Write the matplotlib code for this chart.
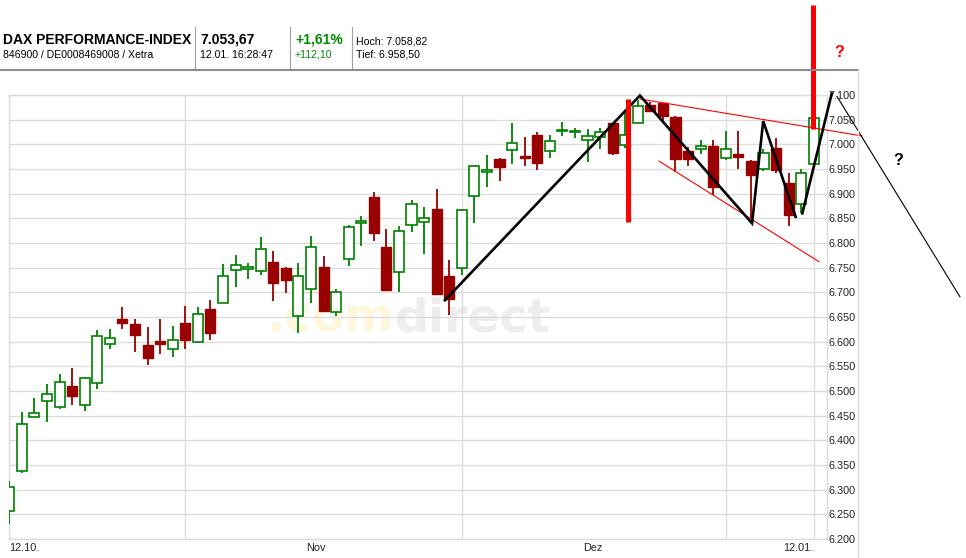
import numpy as np
import pandas as pd
import matplotlib
matplotlib.use('Agg')
import matplotlib.pyplot as plt
from matplotlib.lines import Line2D

plt.rcParams['font.family'] = ['Liberation Sans', 'DejaVu Sans']

# daily candles (Xetra trading days 12.10.2010 - 12.01.2011)
opens = [6257, 6338, 6447, 6479, 6467, 6510, 6471, 6516, 6595, 6646,
         6636, 6593, 6602, 6586, 6638, 6600, 6666, 6678, 6745, 6747,
         6743, 6761, 6749, 6652, 6706, 6751, 6660, 6767, 6841, 6893,
         6792, 6741, 6836, 6842, 6869, 6733, 6749, 6896, 6944, 6970,
         6988, 6976, 7019, 6987, 7028, 7024, 7008, 7014, 7044, 6999,
         7044, 7080, 7083, 7056, 6987, 6990, 6997, 6973, 6980, 6967,
         6949, 6993, 6922, 6880, 6959.5]
highs = [6317, 6457, 6486, 6514, 6534, 6547, 6528, 6624, 6626, 6671,
         6646, 6630, 6646, 6632, 6673, 6671, 6684, 6757, 6776, 6759,
         6812, 6784, 6752, 6759, 6814, 6774, 6706, 6837, 6855, 6903,
         6828, 6834, 6887, 6873, 6909, 6765, 6868, 6959, 6978, 6973,
         7043, 7015, 7024, 7019, 7045, 7033, 7031, 7033, 7044, 7070,
         7090, 7086, 7084, 7057, 6995, 7009, 7009, 7027, 7027, 6968,
         6990, 7012, 6942, 6951, 7058.8]
lows = [6230, 6334, 6447, 6438, 6463, 6472, 6460, 6505, 6586, 6626,
        6580, 6553, 6576, 6569, 6586, 6598, 6604, 6678, 6711, 6728,
        6736, 6683, 6699, 6618, 6679, 6663, 6653, 6753, 6794, 6805,
        6705, 6701, 6823, 6778, 6697, 6655, 6736, 6841, 6914, 6926,
        6961, 6957, 6947, 6973, 7017, 7012, 6964, 6991, 6978, 6993,
        7043, 7065, 7047, 6943, 6956, 6980, 6897, 6968, 6950, 6850,
        6945, 6941, 6834, 6860, 6958.5]
closes = [6305, 6434, 6455, 6493, 6518, 6490, 6526, 6611, 6607, 6638,
          6614, 6567, 6596, 6603, 6603, 6656, 6618, 6734, 6755, 6751,
          6787, 6719, 6724, 6734, 6791, 6663, 6700, 6832, 6845, 6821,
          6705, 6824, 6880, 6850, 6697, 6687, 6867, 6957, 6948, 6955,
          7002, 6973, 6963, 7006, 7030, 7028, 7017, 7024, 6983, 7019,
          7078, 7068, 7058, 6970, 6970, 6996, 6914, 6990, 6975, 6938,
          6982, 6947, 6857, 6941, 7053.67]

y_levels = list(range(6200, 7101, 50))
grid_dates = ['2010-10-12', '2010-11-01', '2010-12-01', '2011-01-03', '2011-01-12']
label_dates = ['2010-10-12', '2010-11-15', '2010-12-15', '2011-01-12']
label_texts = ['12.10.', 'Nov', 'Dez', '12.01.']

# hand-drawn annotations (trading-day index, index points)
zigzag_x = [34.66, 50.17, 59.09, 59.98, 62.56]
zigzag_y = [6684, 7099, 6840, 7047, 6853]
rebound_x = [63.09, 65.43]
rebound_y = [6860, 7103]
forecast_x = [65.85, 75.63]
forecast_y = [7097, 6691]
upper_x = [50.17, 67.84]
upper_y = [7092, 7017]
lower_x = [51.69, 64.42]
lower_y = [6966, 6762]
bars_x = [49.2, 63.96]
bars_lo = [6843, 7032]
bars_hi = [7092, 7282]
quest_x = [66.0, 70.68]
quest_y = [7186, 6968]
quest_col = ['#ff0000', '#000000']

days = pd.bdate_range('2010-10-12', '2011-01-12')
days = days[~days.isin(pd.to_datetime(['2010-12-24', '2010-12-31']))]
def di(d):
    return days.get_loc(pd.Timestamp(d))

W, H = 966, 558
def fx(x):
    return x / W
def fy(y):
    return 1 - y / H

fig = plt.figure(figsize=(W / 100, H / 100), dpi=100)
ax = fig.add_axes([9.3 / W, 19 / H, 817.4 / W, 444 / H])

o = np.array(opens, float); h = np.array(highs, float)
l = np.array(lows, float); c = np.array(closes, float)
idx = np.arange(len(o))
up = c >= o
green, red = '#008000', '#990000'

ax.vlines(idx[up], l[up], h[up], color=green, lw=1.3, zorder=3)
ax.vlines(idx[~up], l[~up], h[~up], color=red, lw=1.3, zorder=3)
ax.bar(idx[up], np.maximum(c[up] - o[up], 1), bottom=o[up], width=0.8,
       facecolor='white', edgecolor=green, lw=1.2, zorder=4)
ax.bar(idx[~up], np.maximum(o[~up] - c[~up], 1), bottom=c[~up], width=0.8,
       facecolor=red, edgecolor=red, lw=1.0, zorder=4)

ax.set_xlim(0, 65.03)
ax.set_ylim(6200, 7100)
ax.set_xticks([])
ax.yaxis.tick_right()
ax.set_yticks(y_levels)
ax.set_yticklabels([f'{v:,}'.replace(',', '.') for v in y_levels])
ax.tick_params(axis='y', length=0, pad=1.5, labelsize=7.8, colors='#222222')
ax.set_axisbelow(False)
ax.grid(axis='y', color='#dcdcdc', lw=1, zorder=1)
for d in grid_dates:
    ax.axvline(di(d), color='#dcdcdc', lw=1, zorder=1)
for s in ax.spines.values():
    s.set_color('#dcdcdc')
    s.set_linewidth(1)

has = ['left', 'center', 'center', 'right']
for d, t, a in zip(label_dates, label_texts, has):
    xpos = di(d) + (0.4 if a == 'center' else 0)
    ax.text(xpos, -0.021, t, transform=ax.get_xaxis_transform(), ha=a,
            va='center', fontsize=7.8, color='#222222')

# annotations
ax.plot(zigzag_x, zigzag_y, color='black', lw=1.9, zorder=6, clip_on=False,
        solid_joinstyle='miter')
ax.plot(rebound_x, rebound_y, color='black', lw=1.9, zorder=6, clip_on=False)
ax.plot(forecast_x, forecast_y, color='black', lw=0.8, zorder=6, clip_on=False)
ax.plot(upper_x, upper_y, color='#ff0000', lw=0.8, zorder=5, clip_on=False)
ax.plot(lower_x, lower_y, color='#ff0000', lw=0.8, zorder=5, clip_on=False)
ax.vlines(bars_x, bars_lo, bars_hi, color='#ff0000', lw=3.6, zorder=7,
          clip_on=False)
for qx, qy, qc in zip(quest_x, quest_y, quest_col):
    ax.text(qx, qy, '?', color=qc, fontsize=11.5, fontweight='bold',
            ha='center', va='center', clip_on=False)

# watermark, behind grid and candles
ax.text(fx(394), fy(331), '.com', color='#fff7dc', fontsize=34,
        fontweight='bold', family='DejaVu Sans', ha='right', va='baseline',
        transform=fig.transFigure, zorder=0.5)
ax.text(fx(395), fy(331), 'direct', color='#ededed', fontsize=34,
        fontweight='bold', family='DejaVu Sans', ha='left', va='baseline',
        transform=fig.transFigure, zorder=0.5)

# header
fig.text(fx(3), fy(44), 'DAX PERFORMANCE-INDEX', fontsize=10,
         fontweight='bold', va='baseline')
fig.text(fx(3), fy(57.5), '846900 / DE0008469008 / Xetra', fontsize=7.6,
         va='baseline')
fig.text(fx(200), fy(44), '7.053,67', fontsize=10, fontweight='bold',
         va='baseline')
fig.text(fx(200), fy(57.5), '12.01. 16:28:47', fontsize=7.6, va='baseline')
fig.text(fx(295), fy(44), '+1,61%', fontsize=10, fontweight='bold',
         color='#008a00', va='baseline')
fig.text(fx(295), fy(57.5), '+112,10', fontsize=7.6, color='#008a00',
         va='baseline')
fig.text(fx(356), fy(44.7), 'Hoch: 7.058,82', fontsize=7.6, va='baseline')
fig.text(fx(356), fy(57.5), 'Tief: 6.958,50', fontsize=7.6, va='baseline')
for sx in [195.3, 290.3, 351.7]:
    fig.add_artist(Line2D([fx(sx), fx(sx)], [fy(27), fy(67.7)],
                          color='#a0a0a0', lw=0.8))
fig.add_artist(Line2D([0, fx(858)], [fy(69.5), fy(69.5)], color='#8c8c8c',
                      lw=1.5))
fig.add_artist(Line2D([fx(858), fx(858)], [fy(70), 0], color='#dcdcdc',
                      lw=1))

fig.savefig('out.png', dpi=100)
